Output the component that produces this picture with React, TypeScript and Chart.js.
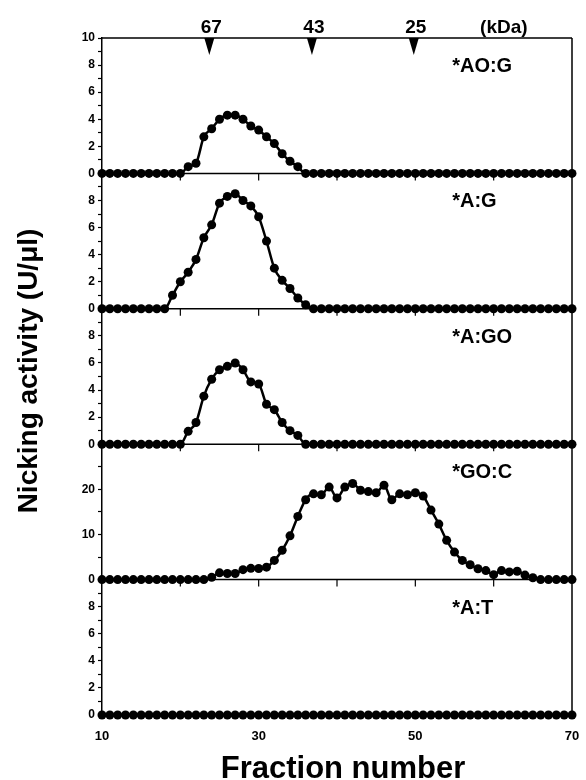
import React, { useEffect, useRef } from 'react';
import { Chart, registerables } from 'chart.js';

Chart.register(...registerables);

// ---------- data ----------
const fractions = [
  10, 11, 12, 13, 14, 15, 16, 17, 18, 19,
  20, 21, 22, 23, 24, 25, 26, 27, 28, 29,
  30, 31, 32, 33, 34, 35, 36, 37, 38, 39,
  40, 41, 42, 43, 44, 45, 46, 47, 48, 49,
  50, 51, 52, 53, 54, 55, 56, 57, 58, 59,
  60, 61, 62, 63, 64, 65, 66, 67, 68, 69,
  70,
];

const seriesAOG = [
  0, 0, 0, 0, 0, 0, 0, 0, 0, 0,
  0, 0.5, 0.75, 2.7, 3.3, 4.0, 4.3, 4.3, 4.0, 3.5,
  3.2, 2.7, 2.2, 1.45, 0.9, 0.5, 0, 0, 0, 0,
  0, 0, 0, 0, 0, 0, 0, 0, 0, 0,
  0, 0, 0, 0, 0, 0, 0, 0, 0, 0,
  0, 0, 0, 0, 0, 0, 0, 0, 0, 0,
  0,
];

const seriesAG = [
  0, 0, 0, 0, 0, 0, 0, 0, 0, 1.0,
  2.0, 2.7, 3.65, 5.25, 6.2, 7.8, 8.3, 8.5, 8.0, 7.6,
  6.8, 5.0, 3.0, 2.1, 1.5, 0.8, 0.3, 0, 0, 0,
  0, 0, 0, 0, 0, 0, 0, 0, 0, 0,
  0, 0, 0, 0, 0, 0, 0, 0, 0, 0,
  0, 0, 0, 0, 0, 0, 0, 0, 0, 0,
  0,
];

const seriesAGO = [
  0, 0, 0, 0, 0, 0, 0, 0, 0, 0,
  0, 0.95, 1.6, 3.55, 4.8, 5.5, 5.75, 6.0, 5.5, 4.6,
  4.45, 2.95, 2.55, 1.6, 1.0, 0.65, 0, 0, 0, 0,
  0, 0, 0, 0, 0, 0, 0, 0, 0, 0,
  0, 0, 0, 0, 0, 0, 0, 0, 0, 0,
  0, 0, 0, 0, 0, 0, 0, 0, 0, 0,
  0,
];

const seriesGOC = [
  0, 0, 0, 0, 0, 0, 0, 0, 0, 0,
  0, 0, 0, 0, 0.5, 1.5, 1.35, 1.35, 2.2, 2.5,
  2.45, 2.75, 4.25, 6.5, 9.7, 14.0, 17.7, 19.0, 18.8, 20.5,
  18.1, 20.5, 21.3, 19.8, 19.5, 19.25, 20.9, 17.7, 19.0, 18.8,
  19.25, 18.5, 15.4, 12.3, 8.7, 6.1, 4.25, 3.3, 2.4, 2.0,
  1.1, 2.0, 1.7, 1.85, 1.0, 0.4, 0, 0, 0, 0,
  0,
];

const seriesAT = [
  0, 0, 0, 0, 0, 0, 0, 0, 0, 0,
  0, 0, 0, 0, 0, 0, 0, 0, 0, 0,
  0, 0, 0, 0, 0, 0, 0, 0, 0, 0,
  0, 0, 0, 0, 0, 0, 0, 0, 0, 0,
  0, 0, 0, 0, 0, 0, 0, 0, 0, 0,
  0, 0, 0, 0, 0, 0, 0, 0, 0, 0,
  0,
];

const panelSeries = [seriesAOG, seriesAG, seriesAGO, seriesGOC, seriesAT];
const panelLabels = ['*AO:G', '*A:G', '*A:GO', '*GO:C', '*A:T'];
const panelMax = [10, 10, 10, 30, 10];
const panelTickStep = [1, 1, 1, 5, 1];
const panelLabelStep = [2, 2, 2, 10, 2];

const xTickLabels = [10, 30, 50, 70];
const xPanelTicks = [20, 30, 40, 50, 60];

const markerFractions = [23.7, 36.8, 49.8];
const markerLabels = ['67', '43', '25'];
const markerUnitLabel = '(kDa)';
const markerUnitFraction = 61.3;

const panelLabelFraction = 54.7;
const yTitle = 'Nicking activity (U/\u03bcl)';
const xTitle = 'Fraction number';

const FONT = '"Liberation Sans", Arial, Helvetica, sans-serif';

const overlayPlugin = {
  id: 'overlay',
  beforeDatasetsDraw(chart: any) {
    const { ctx, chartArea, scales } = chart;
    ctx.save();
    ctx.strokeStyle = '#000';
    ctx.lineWidth = 1.5;
    ctx.beginPath();
    ctx.moveTo(chartArea.left, chartArea.top);
    ctx.lineTo(chartArea.right, chartArea.top);
    ctx.moveTo(chartArea.right, chartArea.top);
    ctx.lineTo(chartArea.right, chartArea.bottom);
    for (let i = 0; i < panelSeries.length; i++) {
      const y = scales['y' + i].getPixelForValue(0);
      ctx.moveTo(chartArea.left, y);
      ctx.lineTo(chartArea.right, y);
    }
    ctx.stroke();
    ctx.lineWidth = 1.2;
    ctx.beginPath();
    for (let i = 0; i < panelSeries.length - 1; i++) {
      const y = scales['y' + i].getPixelForValue(0);
      for (const t of xPanelTicks) {
        const x = scales.x.getPixelForValue(t);
        ctx.moveTo(x, y);
        ctx.lineTo(x, y + 7);
      }
    }
    ctx.stroke();
    ctx.restore();
  },
  afterDraw(chart: any) {
    const { ctx, chartArea, scales } = chart;
    ctx.save();
    ctx.fillStyle = '#000';
    // panel labels
    ctx.font = `bold 20px ${FONT}`;
    ctx.textAlign = 'left';
    ctx.textBaseline = 'middle';
    for (let i = 0; i < panelLabels.length; i++) {
      const y = scales['y' + i].getPixelForValue(panelMax[i] * 0.79);
      const x = scales.x.getPixelForValue(panelLabelFraction);
      ctx.fillText(panelLabels[i], x, y);
    }
    // size markers
    ctx.font = `bold 19px ${FONT}`;
    ctx.textAlign = 'center';
    ctx.textBaseline = 'alphabetic';
    for (let i = 0; i < markerFractions.length; i++) {
      const x = scales.x.getPixelForValue(markerFractions[i]);
      ctx.beginPath();
      ctx.moveTo(x - 5, chartArea.top);
      ctx.lineTo(x + 5, chartArea.top);
      ctx.lineTo(x, chartArea.top + 17);
      ctx.closePath();
      ctx.fill();
      ctx.fillText(markerLabels[i], x + 2, chartArea.top - 5);
    }
    ctx.fillText(markerUnitLabel, scales.x.getPixelForValue(markerUnitFraction), chartArea.top - 5);
    // axis titles
    ctx.font = `bold 31px ${FONT}`;
    ctx.textAlign = 'center';
    ctx.textBaseline = 'alphabetic';
    ctx.fillText(xTitle, (chartArea.left + chartArea.right) / 2 + 6, 778);
    ctx.save();
    ctx.translate(29, 371);
    ctx.rotate(-Math.PI / 2);
    ctx.font = `bold 28px ${FONT}`;
    ctx.textBaseline = 'middle';
    ctx.fillText(yTitle, 0, 0);
    ctx.restore();
    ctx.restore();
  },
};

export default function App() {
  const canvasRef = useRef<HTMLCanvasElement | null>(null);

  useEffect(() => {
    if (!canvasRef.current) return;
    const scales: any = {
      x: {
        type: 'linear',
        position: 'bottom',
        min: 10,
        max: 70,
        grid: {
          display: true,
          drawOnChartArea: false,
          drawTicks: true,
          tickLength: 14,
          tickColor: 'rgba(0,0,0,0)',
        },
        border: { display: false },
        ticks: {
          stepSize: 10,
          autoSkip: false,
          maxRotation: 0,
          padding: 0,
          color: '#000',
          font: { family: FONT, size: 13, weight: 'bold' },
          callback: (v: any) => (xTickLabels.includes(v) ? String(v) : ''),
        },
        afterFit: (s: any) => {
          s.height = 65;
        },
      },
    };
    for (let i = panelSeries.length - 1; i >= 0; i--) {
      const idx = i;
      scales['y' + idx] = {
        type: 'linear',
        position: 'left',
        stack: 'panels',
        stackWeight: 1,
        min: 0,
        max: panelMax[idx],
        grid: {
          display: true,
          drawOnChartArea: false,
          drawTicks: true,
          tickLength: 4,
          tickColor: '#000',
          tickWidth: 1.2,
        },
        border: { display: true, color: '#000', width: 1.5 },
        ticks: {
          stepSize: panelTickStep[idx],
          autoSkip: false,
          padding: 3,
          color: '#000',
          font: { family: FONT, size: 12, weight: 'bold' },
          callback: (v: any) =>
            v % panelLabelStep[idx] === 0 && (v !== panelMax[idx] || idx === 0) ? String(v) : '',
        },
        afterFit: (s: any) => {
          s.width = 24;
        },
      };
    }

    const datasets = panelSeries.map((series, i) => ({
      label: panelLabels[i],
      data: series.map((v, j) => ({ x: fractions[j], y: v })),
      yAxisID: 'y' + i,
      xAxisID: 'x',
      borderColor: '#000',
      backgroundColor: '#000',
      borderWidth: 2.5,
      pointRadius: 4.5,
      pointBorderWidth: 0,
      pointBackgroundColor: '#000',
      cubicInterpolationMode: 'monotone' as const,
      clip: false as any,
    }));

    const chart = new Chart(canvasRef.current, {
      type: 'line',
      data: { datasets },
      options: {
        animation: false,
        responsive: false,
        devicePixelRatio: 1,
        layout: { padding: { left: 78, right: 14, top: 38, bottom: 0 } },
        plugins: { legend: { display: false }, tooltip: { enabled: false } },
        scales,
      },
      plugins: [overlayPlugin],
    });
    return () => chart.destroy();
  }, []);

  return (
    <div style={{ position: 'absolute', left: 0, top: 0, width: 586, height: 780, background: '#fff' }}>
      <canvas ref={canvasRef} width={586} height={780} style={{ width: 586, height: 780 }} />
    </div>
  );
}
